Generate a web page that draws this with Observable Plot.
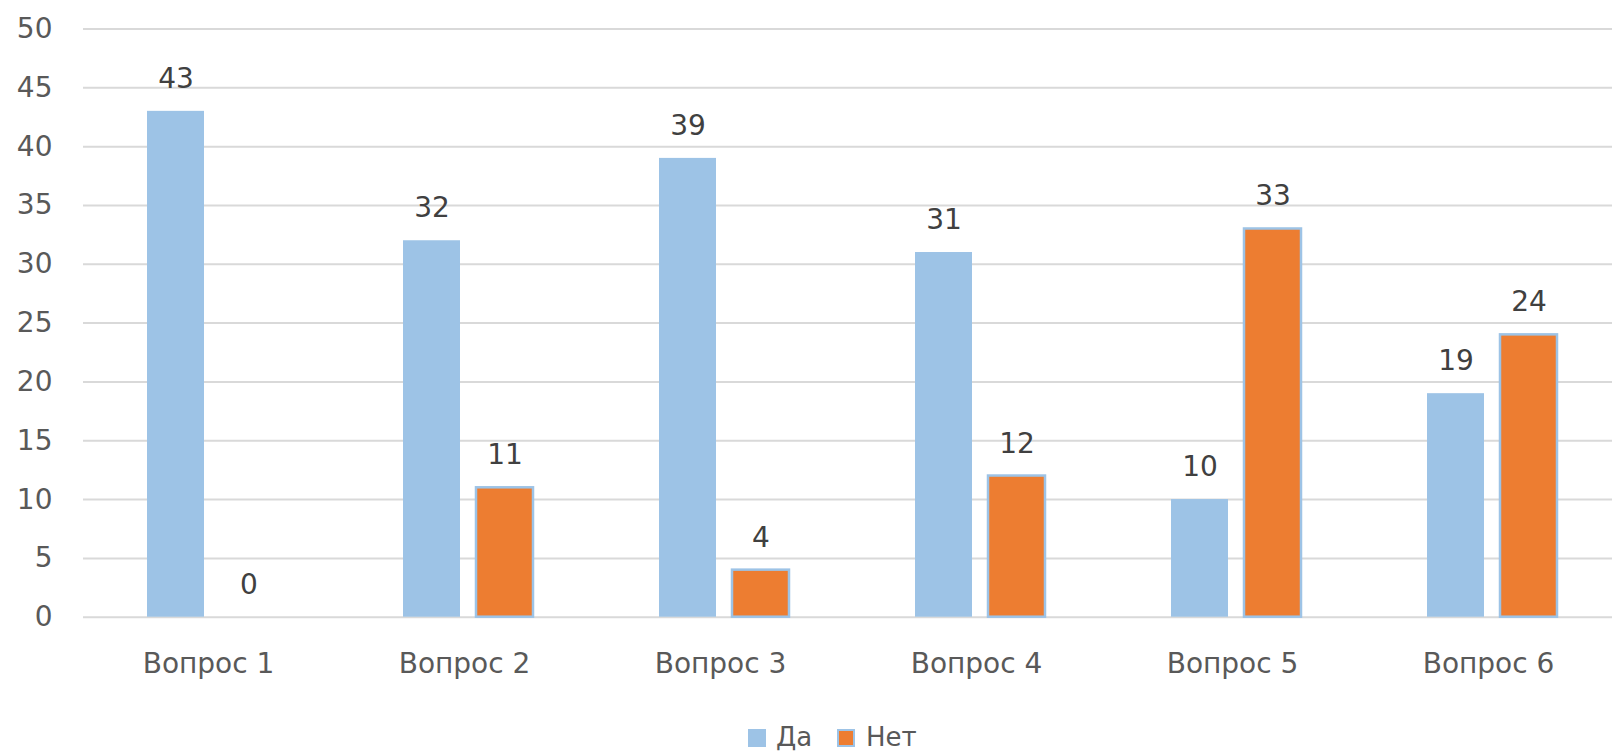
<!DOCTYPE html>
<html>
<head>
<meta charset="utf-8">
<script src="https://cdn.jsdelivr.net/npm/d3@7"></script>
<script src="https://cdn.jsdelivr.net/npm/@observablehq/plot@0.6"></script>
<style>
  html, body { margin: 0; padding: 0; background: #fff; }
  #wrap { position: relative; width: 1612px; height: 753px; font-family: "DejaVu Sans", sans-serif; color: #595959; }
  #legend { position: absolute; left: 0; top: 700px; width: 1612px; height: 53px; font-size: 26px; color: #595959; }
  .sw { position: absolute; top: 29px; width: 18px; height: 18px; box-sizing: border-box; }
  .lbl { position: absolute; top: 22px; line-height: 30px; }
</style>
</head>
<body>
<div id="wrap"></div>
<script>
const categories = ["Вопрос 1", "Вопрос 2", "Вопрос 3", "Вопрос 4", "Вопрос 5", "Вопрос 6"];
const seriesNames = ["Да", "Нет"];
const daValues = [43, 32, 39, 31, 10, 19];
const netValues = [0, 11, 4, 12, 33, 24];
const yTicks = [0, 5, 10, 15, 20, 25, 30, 35, 40, 45, 50];
const colors = { "Да": "#9dc3e6", "Нет": "#ed7d31" };

const da = categories.map((c, i) => ({ cat: c, series: seriesNames[0], value: daValues[i] }));
const net = categories.map((c, i) => ({ cat: c, series: seriesNames[1], value: netValues[i] }));

const chart = Plot.plot({
  width: 1612,
  height: 700,
  marginLeft: 83,
  marginRight: 0,
  marginTop: 28.5,
  marginBottom: 83.3,
  style: { fontFamily: "'DejaVu Sans', sans-serif", color: "#595959", background: "#fff" },
  x: { domain: categories, range: [83.7, 1621.3], padding: 0, axis: null, label: null },
  y: { domain: [0, 50], axis: null, label: null },
  marks: [
    Plot.ruleY(yTicks, { stroke: "#d9d9d9", strokeWidth: 2 }),
    Plot.axisY({ ticks: yTicks, tickSize: 0, tickPadding: 31, fontSize: 28, fill: "#595959", label: null }),
    Plot.axisX({ tickSize: 0, tickPadding: 36, dx: -4, fontSize: 28, fill: "#595959", label: null }),
    Plot.barY(da, { x: "cat", y: "value", fill: colors["Да"], insetLeft: 63, insetRight: 136 }),
    Plot.barY(net.filter(d => d.value > 0), { x: "cat", y: "value", fill: colors["Нет"], stroke: colors["Да"], strokeWidth: 2.5, insetLeft: 136, insetRight: 63 }),
    Plot.text(da, { x: "cat", y: "value", text: d => String(d.value), dx: -36.5, dy: -32.5, fontSize: 28, fill: "#404040" }),
    Plot.text(net, { x: "cat", y: "value", text: d => String(d.value), dx: 36.5, dy: -32.5, fontSize: 28, fill: "#404040" })
  ]
});

const wrap = document.getElementById("wrap");
wrap.appendChild(chart);

const legend = document.createElement("div");
legend.id = "legend";
const swatchX = [748, 837];
const labelX = [776, 866];
seriesNames.forEach((name, i) => {
  const sw = document.createElement("span");
  sw.className = "sw";
  sw.style.left = swatchX[i] + "px";
  sw.style.background = colors[name];
  if (name === "Нет") sw.style.border = "2px solid " + colors["Да"];
  const label = document.createElement("span");
  label.className = "lbl";
  label.style.left = labelX[i] + "px";
  label.textContent = name;
  legend.appendChild(sw);
  legend.appendChild(label);
});
wrap.appendChild(legend);
</script>
</body>
</html>
